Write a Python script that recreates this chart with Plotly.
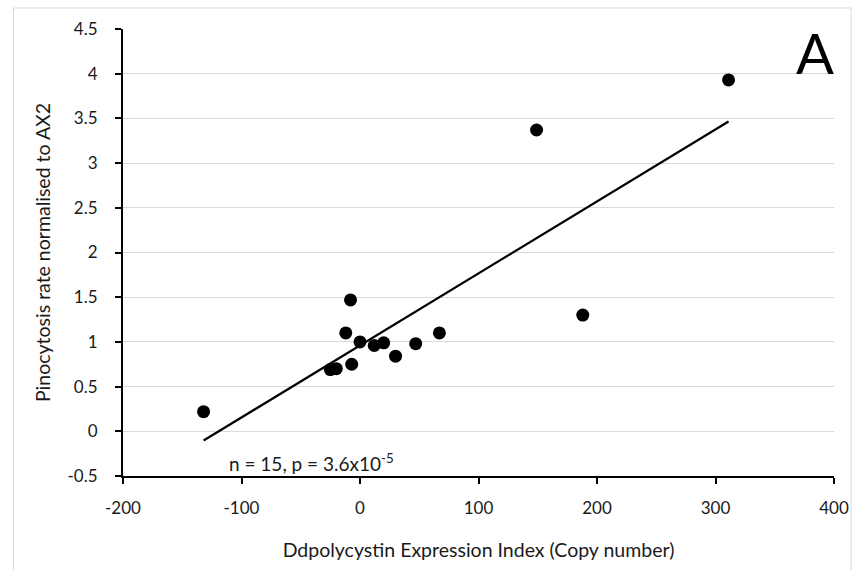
import numpy as np
import plotly.graph_objects as go

# Data
expression_index = [-132, -25, -20, -12, -8, -7, 0, 12, 20, 30, 47, 67, 149, 188, 311]
pinocytosis_rate = [0.22, 0.69, 0.70, 1.10, 1.47, 0.75, 1.00, 0.96, 0.99, 0.84, 0.98, 1.10, 3.37, 1.30, 3.93]
x_ticks = [-200, -100, 0, 100, 200, 300, 400]
y_ticks = [-0.5, 0, 0.5, 1, 1.5, 2, 2.5, 3, 3.5, 4, 4.5]

FONT = "Lato"
TXT = "#1a1a1a"

# Linear trendline (least squares) through the data
slope, intercept = np.polyfit(expression_index, pinocytosis_rate, 1)
x_fit = [min(expression_index), max(expression_index)]
y_fit = [slope * v + intercept for v in x_fit]

fig = go.Figure()
fig.add_trace(go.Scatter(x=x_fit, y=y_fit, mode="lines",
                         line=dict(color="black", width=2.2), showlegend=False,
                         hoverinfo="skip"))
fig.add_trace(go.Scatter(x=expression_index, y=pinocytosis_rate, mode="markers",
                         marker=dict(color="black", size=13), showlegend=False))

fig.update_layout(
    width=861, height=570,
    margin=dict(l=123, r=18, t=29, b=94),
    paper_bgcolor="white", plot_bgcolor="white",
    font=dict(family=FONT, color=TXT),
    xaxis=dict(range=[-200, 400], tickvals=x_ticks, ticktext=[str(v) for v in x_ticks],
               showgrid=False, zeroline=False, showline=True, linecolor="black", linewidth=2,
               ticks="outside", ticklen=6, tickwidth=1.5, tickcolor="black",
               ticklabelstandoff=10,
               tickfont=dict(size=17, family=FONT, color=TXT),
               title=dict(text="Ddpolycystin Expression Index (Copy number)",
                          font=dict(size=19.5, family=FONT, color=TXT), standoff=26)),
    yaxis=dict(range=[-0.5, 4.5], tickvals=y_ticks, ticktext=[f"{v:g}" for v in y_ticks],
               showgrid=True, gridcolor="#d9d9d9", gridwidth=1, zeroline=False,
               showline=True, linecolor="black", linewidth=2,
               ticks="outside", ticklen=6, tickwidth=1.5, tickcolor="black",
               ticklabelstandoff=14,
               tickfont=dict(size=17, family=FONT, color=TXT),
               title=dict(text="Pinocytosis rate normalised to AX2",
                          font=dict(size=19.5, family=FONT, color=TXT), standoff=12)),
    shapes=[dict(type="rect", xref="paper", yref="paper",
                 x0=-0.154, x1=1.024, y0=-0.25, y1=1.047,
                 line=dict(color="#d9d9d9", width=1), layer="below")],
    annotations=[
        dict(x=384, y=4.24, xref="x", yref="y", text="A", showarrow=False,
             font=dict(size=56, family=FONT, color="black"), xanchor="center", yanchor="middle"),
        dict(x=-112, y=-0.35, xref="x", yref="y", text="n = 15, p = 3.6x10<sup>-5</sup>",
             showarrow=False, font=dict(size=19, family=FONT, color=TXT),
             xanchor="left", yanchor="middle"),
    ],
)

fig.write_html("out.html")
